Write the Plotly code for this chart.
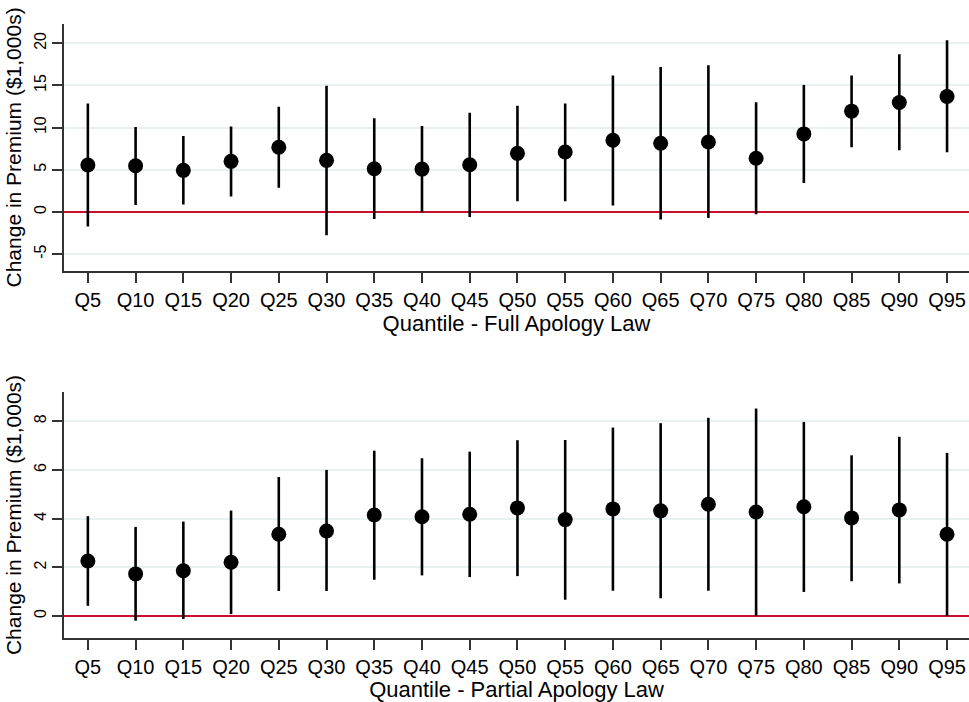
import plotly.graph_objects as go
from plotly.subplots import make_subplots

quantiles = ["Q5", "Q10", "Q15", "Q20", "Q25", "Q30", "Q35", "Q40", "Q45", "Q50",
             "Q55", "Q60", "Q65", "Q70", "Q75", "Q80", "Q85", "Q90", "Q95"]

full_est = [5.56, 5.48, 4.93, 6.00, 7.67, 6.12, 5.12, 5.08, 5.60, 6.95,
            7.11, 8.50, 8.14, 8.30, 6.36, 9.25, 11.95, 12.98, 13.69]
full_lo = [-1.74, 0.83, 0.88, 1.83, 2.86, -2.77, -0.83, -0.04, -0.60, 1.27,
           1.27, 0.76, -0.90, -0.71, -0.27, 3.42, 7.67, 7.31, 7.07]
full_hi = [12.86, 10.08, 9.01, 10.12, 12.46, 14.96, 11.12, 10.20, 11.75, 12.58,
           12.86, 16.19, 17.19, 17.38, 13.02, 15.05, 16.19, 18.69, 20.36]

part_est = [2.26, 1.73, 1.86, 2.21, 3.36, 3.49, 4.15, 4.08, 4.18, 4.44,
            3.96, 4.40, 4.32, 4.59, 4.27, 4.49, 4.03, 4.36, 3.36]
part_lo = [0.42, -0.19, -0.12, 0.08, 1.03, 1.03, 1.49, 1.67, 1.60, 1.64,
           0.67, 1.04, 0.73, 1.04, 0.01, 0.99, 1.43, 1.34, 0.01]
part_hi = [4.10, 3.66, 3.88, 4.33, 5.71, 6.00, 6.79, 6.48, 6.75, 7.22,
           7.23, 7.74, 7.92, 8.14, 8.52, 7.97, 6.60, 7.36, 6.70]

top_ticks = [-5, 0, 5, 10, 15, 20]
bottom_ticks = [0, 2, 4, 6, 8]

y_title = "Change in Premium ($1,000s)"
x_title_top = "Quantile - Full Apology Law"
x_title_bottom = "Quantile - Partial Apology Law"

FONT = "Liberation Sans, Arial, sans-serif"
GRID = "#E8F0F2"
AXIS = "#333333"
RED = "#C8102E"

fig = make_subplots(rows=2, cols=1)


def add_panel(est, lo, hi, row):
    plus = [h - e for h, e in zip(hi, est)]
    minus = [e - l for e, l in zip(est, lo)]
    fig.add_trace(go.Scatter(
        x=quantiles, y=est, mode="markers",
        marker=dict(color="black", size=15),
        error_y=dict(type="data", symmetric=False, array=plus, arrayminus=minus,
                     color="black", thickness=2.6, width=0),
        showlegend=False,
    ), row=row, col=1)


add_panel(full_est, full_lo, full_hi, 1)
add_panel(part_est, part_lo, part_hi, 2)

common_x = dict(
    type="category", range=[-0.5, 18.46],
    showline=True, linecolor=AXIS, linewidth=1.5,
    ticks="outside", ticklen=10, tickwidth=1.5, tickcolor=AXIS,
    showgrid=False, zeroline=False,
    tickfont=dict(family=FONT, size=20, color="black"),
    title_font=dict(family=FONT, size=22, color="black"),
    title_standoff=0,
)
common_y = dict(
    showline=True, linecolor=AXIS, linewidth=1.5,
    ticks="outside", ticklen=10, tickwidth=1.5, tickcolor=AXIS,
    showgrid=True, gridcolor=GRID, gridwidth=1.5,
    zeroline=True, zerolinecolor=RED, zerolinewidth=2,
    tickangle=-90,
    tickfont=dict(family=FONT, size=16, color="black"),
    title_font=dict(family=FONT, size=21, color="black"),
    title_standoff=4,
)

fig.update_xaxes(**common_x)
fig.update_yaxes(**common_y)

fig.update_xaxes(row=1, col=1, domain=[0, 1], title_text=x_title_top)
fig.update_xaxes(row=2, col=1, domain=[0, 1], title_text=x_title_bottom)
fig.update_yaxes(row=1, col=1, domain=[0.614, 0.966], range=[-7.0, 22.3],
                 tickvals=top_ticks, ticktext=[str(v) for v in top_ticks],
                 title_text=y_title)
fig.update_yaxes(row=2, col=1, domain=[0.0912, 0.4416], range=[-0.9, 9.2],
                 tickvals=bottom_ticks, ticktext=[str(v) for v in bottom_ticks],
                 title_text=y_title)

fig.update_layout(
    width=969, height=702,
    margin=dict(l=64, r=0, t=0, b=0),
    plot_bgcolor="white", paper_bgcolor="white",
    font=dict(family=FONT, color="black"),
)

fig.write_html("out.html")
